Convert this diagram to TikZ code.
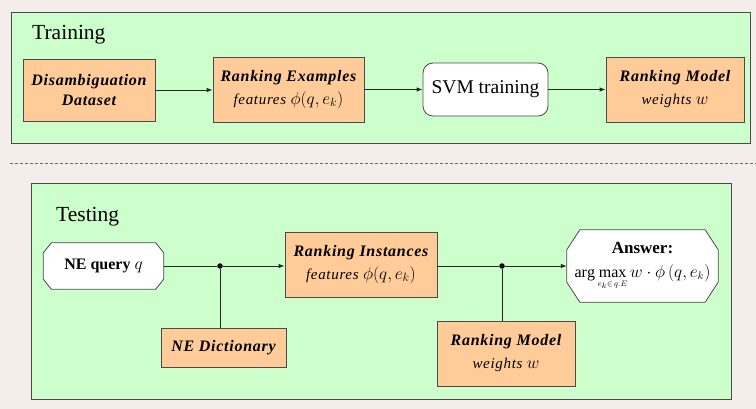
\documentclass[tikz,border=0pt]{standalone}
\usepackage{fontspec}
\setmainfont{Liberation Serif}
\newfontfamily\spacedserif[LetterSpace=4.5]{Liberation Serif}
\usetikzlibrary{arrows.meta,calc}

\definecolor{bgc}{HTML}{F5EDE9}
\definecolor{greenf}{HTML}{CCFFCC}
\definecolor{orangef}{HTML}{FFCC99}
\definecolor{edgec}{HTML}{4A4A4A}

\newcommand\mytitle{\spacedserif\bfseries\itshape\fontsize{16}{23}\selectfont}
\newcommand\mysub{\spacedserif\itshape\fontsize{15}{23}\selectfont}
\newcommand\bigmath[1]{{\fontsize{18}{23}\selectfont$#1$}}

\pgfdeclarelayer{bglayer}
\pgfdeclarelayer{octlayer}
\pgfsetlayers{bglayer,octlayer,main}

\tikzset{
  frame/.style={draw=edgec, fill=greenf, line width=0.9pt, inner sep=0pt},
  obox/.style={draw=edgec, fill=orangef, line width=0.8pt, inner sep=0pt, align=center,
    font=\fontsize{16}{23}\selectfont},
  wbox/.style={draw=edgec, fill=white, line width=0.8pt, inner sep=0pt, align=center},
  octtext/.style={inner sep=0pt, align=center},
  octline/.style={draw=edgec, fill=white, line width=0.8pt},
  conn/.style={draw=black!85, line width=0.8pt},
  arr/.style={conn, -{Latex[length=6pt,width=4.5pt]}},
  jdot/.style={circle, fill=black, inner sep=0pt, minimum size=5.5pt},
  lab/.style={font=\fontsize{21.5}{24}\selectfont, inner sep=0pt, anchor=base west}
}

% octagon around node #1 with chamfer #2 (horizontal) and #3 (vertical)
\newcommand\octagonof[3]{%
  \begin{pgfonlayer}{octlayer}
  \draw[octline] ($(#1.north west)+(#2,0)$) -- ($(#1.north east)+(-#2,0)$)
    -- ($(#1.north east)+(0,#3)$) -- ($(#1.south east)+(0,-#3)$)
    -- ($(#1.south east)+(-#2,0)$) -- ($(#1.south west)+(#2,0)$)
    -- ($(#1.south west)+(0,-#3)$) -- ($(#1.north west)+(0,#3)$) -- cycle;
  \end{pgfonlayer}}

\begin{document}
\begin{tikzpicture}[x=1pt,y=-1pt]
\useasboundingbox (0,0) rectangle (756,409);
\begin{pgfonlayer}{bglayer}
\fill[bgc] (0,0) rectangle (756,409);
\node[frame, minimum width=739pt, minimum height=131pt] (train) at (380.5,77.5) {};
\node[frame, minimum width=700pt, minimum height=216pt] (test) at (381,291) {};
\end{pgfonlayer}

% ---------- Training ----------
\node[lab] (trainlab) at (32,39.5) {Training};

\node[obox, minimum width=132pt, minimum height=62pt, font=\mytitle\fontsize{16}{20}\selectfont]
  (dis) at (89,90) {Disambiguation\\Dataset};
\node[obox, minimum width=151pt, minimum height=65pt] (rex) at (288.5,89.5)
  {{\mytitle Ranking Examples}\\{\mysub features \bigmath{\phi(q,e_k)}}};
\node[wbox, rounded corners=10pt, minimum width=125pt, minimum height=53pt,
  font=\fontsize{19.5}{22}\selectfont] (svm) at (485.5,89.5) {SVM training};
\node[obox, minimum width=138pt, minimum height=65pt] (rm1) at (675,89.5)
  {{\mytitle Ranking Model}\\{\mysub weights \bigmath{w}}};

\draw[arr] (dis.east) -- (dis.east -| rex.west);
\draw[arr] (rex.east) -- (rex.east -| svm.west);
\draw[arr] (svm.east) -- (svm.east -| rm1.west);

% ---------- separator ----------
\coordinate (sepl) at (10,163);
\coordinate (sepr) at (756,163);
\draw[black!60, line width=0.6pt, dash pattern=on 3pt off 2pt] (sepl) -- (sepr);

% ---------- Testing ----------
\node[lab] (testlab) at (56,222) {Testing};

\node[octtext, minimum width=120pt, minimum height=46pt,
  font=\fontsize{16}{19}\selectfont] (neq) at (103.5,266) {\textbf{NE query} \bigmath{q}};
\octagonof{neq}{8}{10}
\node[jdot] (d1) at (220,266) {};
\node[obox, minimum width=125pt, minimum height=39pt] (ned) at (223.5,347.5)
  {{\mytitle NE Dictionary}};
\node[obox, minimum width=152pt, minimum height=65pt] (rin) at (361,264.5)
  {{\mytitle Ranking Instances}\\{\mysub features \bigmath{\phi(q,e_k)}}};
\node[jdot] (d2) at (502,266) {};
\node[obox, minimum width=138pt, minimum height=65pt] (rm2) at (506,353.5)
  {{\mytitle Ranking Model}\\{\mysub weights \bigmath{w}}};
\node[octtext, minimum width=151pt, minimum height=72pt,
  font=\fontsize{16}{22}\selectfont] (ans) at (642.5,266)
  {{\bfseries\fontsize{17}{22}\selectfont Answer:}\\[2pt]
   $\mathrm{arg}\max\limits_{\rule{0pt}{7pt}\scriptscriptstyle e_k\in\, q.E} w\cdot\phi\,(q,e_k)$};
\octagonof{ans}{13}{20}

\draw[conn] (neq.east) -- (d1);
\draw[arr] (d1) -- (d1 -| rin.west);
\draw[conn] (d1) -- (d1 |- ned.north);
\draw[conn] (rin.east |- d2) -- (d2);
\draw[arr] (d2) -- (d2 -| ans.west);
\draw[conn] (d2) -- (d2 |- rm2.north);
\end{tikzpicture}
\end{document}
